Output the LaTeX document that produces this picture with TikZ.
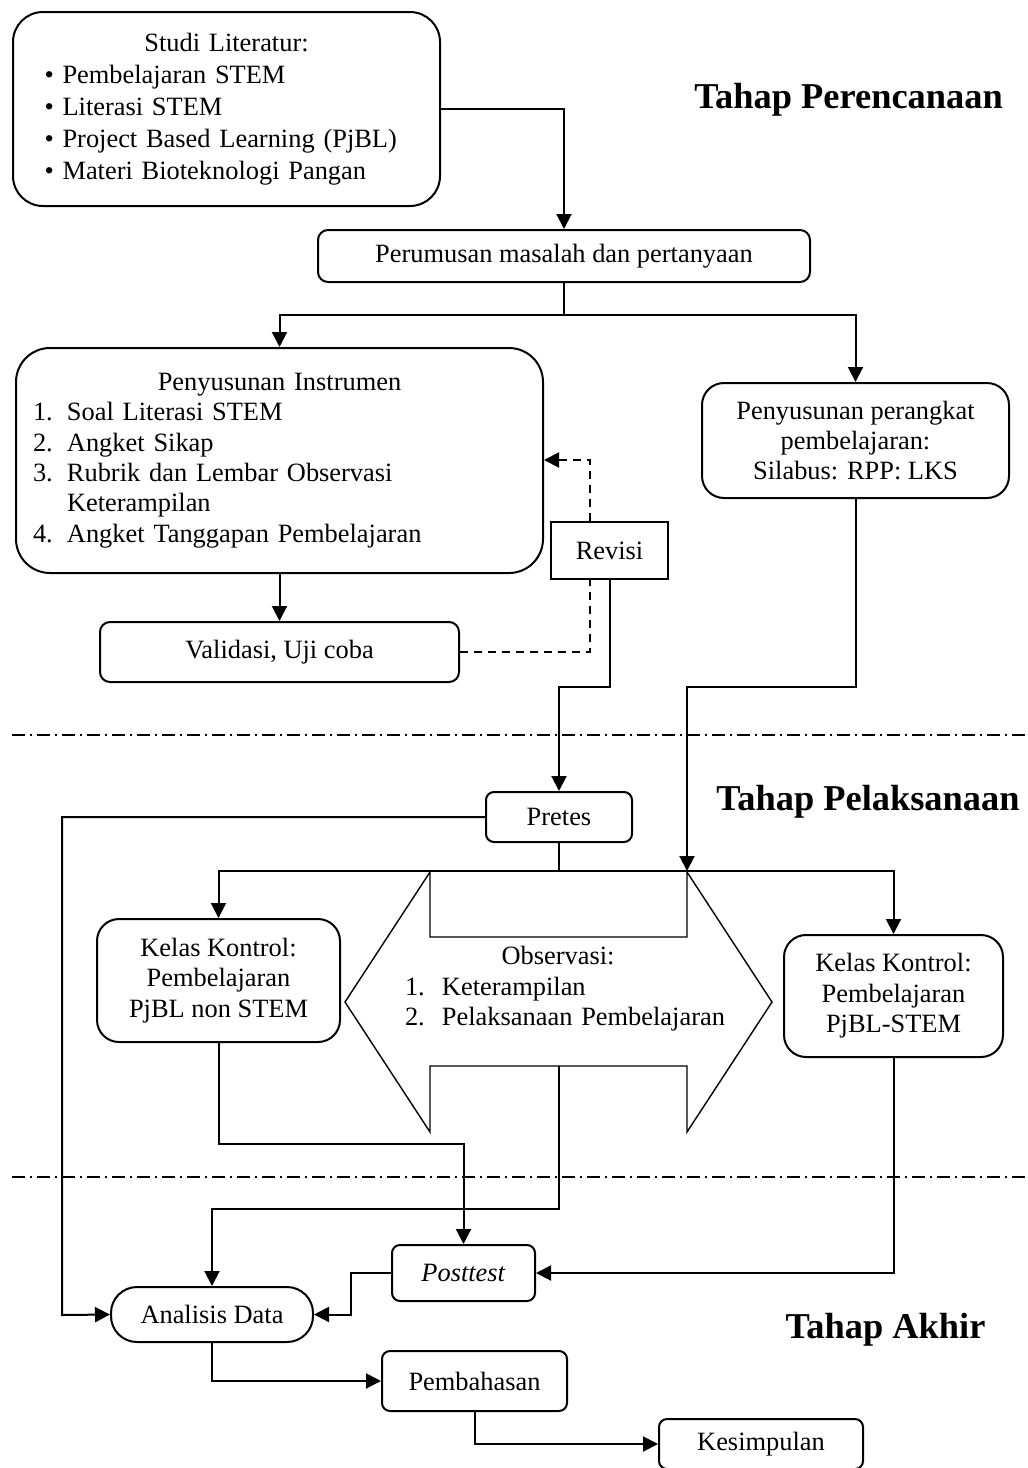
\documentclass[tikz,border=0pt]{standalone}
\usepackage{fontspec}
\setmainfont{Liberation Serif}
\usetikzlibrary{arrows.meta}

\begin{document}
\begin{tikzpicture}[x=0.5pt,y=-0.5pt,line width=1pt,>={Triangle[length=7.5pt,width=7.5pt]},
  font=\fontsize{13.2}{15.2}\selectfont,
  proc/.style={draw,line width=1pt,rounded corners=5pt,inner sep=0pt},
  stage/.style={font=\fontsize{18.2}{22}\selectfont\bfseries},
  thinline/.style={line width=0.6pt},
  dashln/.style={dash pattern=on 4pt off 3pt},
  sepline/.style={line width=0.75pt,dash pattern=on 6.5pt off 2.5pt on 1pt off 2.5pt}]
\useasboundingbox (0,0) rectangle (1028,1468);
\node (studi) at (226.5,109) [proc,rounded corners=15pt,minimum width=213.5pt,minimum height=97pt,text width=182pt,align=left,font=\fontsize{13.2}{16}\selectfont] {\makebox[182pt]{Studi Literatur:}\\\textbullet\ Pembelajaran STEM\\\textbullet\ Literasi STEM\\\textbullet\ Project Based Learning (PjBL)\\\textbullet\ Materi Bioteknologi Pangan};
\node (rumus) at (564,256) [proc,minimum width=246pt,minimum height=26pt] {Perumusan masalah dan pertanyaan};
\node (instrumen) at (279.5,460.5) [proc,rounded corners=17pt,minimum width=263.5pt,minimum height=112.5pt,text width=246.5pt,align=left] {\makebox[246.5pt]{Penyusunan Instrumen}\\\makebox[17pt][l]{1.}Soal Literasi STEM\\\makebox[17pt][l]{2.}Angket Sikap\\\makebox[17pt][l]{3.}Rubrik dan Lembar Observasi\\\hspace*{17pt}Keterampilan\\\makebox[17pt][l]{4.}Angket Tanggapan Pembelajaran};
\node (perangkat) at (855.5,440.5) [proc,rounded corners=11pt,minimum width=153.5pt,minimum height=57.5pt,align=center] {Penyusunan perangkat\\pembelajaran:\\Silabus: RPP: LKS};
\node (revisi) at (609.5,550.5) [proc,sharp corners,minimum width=58.5pt,minimum height=28.5pt] {Revisi};
\node (validasi) at (279.5,652) [proc,minimum width=179.5pt,minimum height=30pt] {Validasi, Uji coba};
\node (pretes) at (559,817) [proc,rounded corners=4pt,minimum width=73pt,minimum height=25pt] {Pretes};
\node (kontrol) at (218.5,980.5) [proc,rounded corners=11pt,minimum width=121.5pt,minimum height=61.5pt,align=center] {Kelas Kontrol:\\Pembelajaran\\PjBL non STEM};
\node (pjbl) at (893.5,996) [proc,rounded corners=11pt,minimum width=109.5pt,minimum height=61pt,align=center] {Kelas Kontrol:\\Pembelajaran\\PjBL-STEM};
\node (obs) at (575,989) [text width=170pt,align=left,inner sep=0pt] {\makebox[153pt]{Observasi:}\\\makebox[18.5pt][l]{1.}Keterampilan\\\makebox[18.5pt][l]{2.}Pelaksanaan Pembelajaran};
\node (posttest) at (463.5,1273) [proc,rounded corners=4pt,minimum width=71.5pt,minimum height=28pt] {\textit{Posttest}};
\node (analisis) at (212,1314.5) [proc,rounded corners=13pt,minimum width=101pt,minimum height=27.5pt] {Analisis Data};
\node (bahas) at (474.5,1381) [proc,rounded corners=4pt,minimum width=92.5pt,minimum height=30pt] {Pembahasan};
\node (simpul) at (761,1444) [proc,rounded corners=4pt,minimum width=102pt,minimum height=25pt] {Kesimpulan};
\node (tahap1) at (848.5,100) [stage] {Tahap Perencanaan};
\node (tahap2) at (868,802) [stage] {Tahap Pelaksanaan};
\node (tahap3) at (885.5,1330) [stage] {Tahap Akhir};
\draw[line width=0.7pt] (430,872) -- (430,937) -- (687,937) -- (687,872) -- (772,1002) -- (687,1132) -- (687,1066) -- (430,1066) -- (430,1132) -- (345,1002) -- cycle;
\coordinate (bus) at (559,871);
\coordinate (jr) at (687,871);
\coordinate (obsbot) at (559,1066);
\coordinate (lft) at (62,1315);
\coordinate (dsh) at (590,652);
\coordinate (dsh2) at (590,460);
\draw[sepline] (12,735) -- (1028,735);
\draw[sepline] (12,1177) -- (1028,1177);
\draw[->] (studi.east) -| (rumus.north);
\draw[thinline] (rumus.south) -- ++(0,32) coordinate (split);
\draw[->] (split) -| (instrumen.north);
\draw[->] (split) -| (perangkat.north);
\draw[->] (instrumen.south) -- (validasi.north);
\draw[dashln] (validasi.east) -- (dsh) -- (dsh |- revisi.south);
\draw[->,dashln] (dsh |- revisi.north) -- (dsh2) -- (instrumen.east |- dsh2);
\draw[->] (revisi.south) -- ++(0,107) -| (pretes.north);
\draw[->] (perangkat.south) -- ++(0,188) -| (jr);
\draw[thinline] (pretes.south) -- (bus);
\draw[->] (bus) -| (kontrol.north);
\draw[->] (bus) -| (pjbl.north);
\draw[->] (pretes.west) -| (lft) -- (analisis.west);
\draw[->] (kontrol.south) -- ++(0,101) -| (posttest.north);
\draw[->] (obsbot) -- ++(0,143) -| (analisis.north);
\draw[->] (pjbl.south) |- (posttest.east);
\draw[->] (posttest.west) -- ++(-40,0) |- (analisis.east);
\draw[->] (analisis.south) |- (bahas.west);
\draw[->] (bahas.south) |- (simpul.west);
\end{tikzpicture}
\end{document}
